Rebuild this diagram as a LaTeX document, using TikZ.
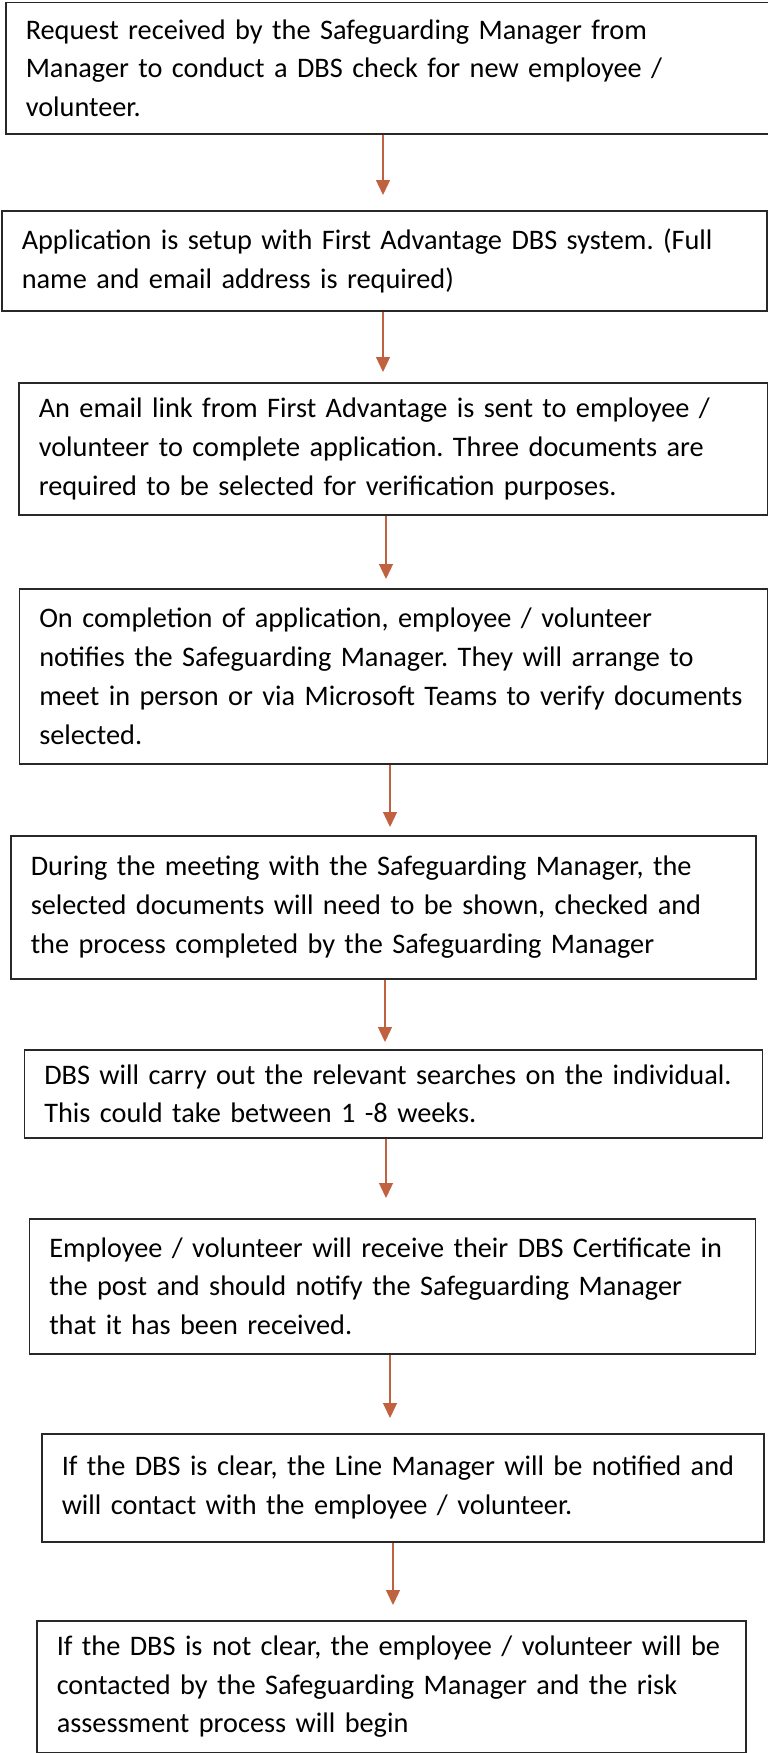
\documentclass[tikz,border=0pt]{standalone}
\usepackage{fontspec}
\setmainfont{Carlito}
\usepackage{tikz}
\usetikzlibrary{arrows.meta}
\definecolor{flowbrown}{RGB}{192,98,64}
\definecolor{boxline}{RGB}{40,40,40}
\tikzset{>={Triangle[length=15pt,width=14pt]}}
\frenchspacing

\begin{document}
\begin{tikzpicture}
    [x=1pt, y=-1pt,
     box/.style={draw=boxline, line width=1.5pt, anchor=north west, align=left,
       inner xsep=20pt, inner ysep=0pt, font=\fontsize{28.3}{38.8}\selectfont,
       execute at begin node={\rightskip=0pt plus 1fil minus 30pt\hyphenpenalty=10000}},
     flow/.style={->, draw=flowbrown, fill=flowbrown, line width=1.3pt}]

    \useasboundingbox (0,0) rectangle (768,1753);

    \node[box, text width=724pt, minimum height=131pt] (request) at (5,2)
      {Request received by the Safeguarding Manager from\\
       Manager to conduct a DBS check for new employee /\\
       volunteer.};

    \node[box, text width=725pt, minimum height=100pt] (setup) at (1,210)
      {Application is setup with First Advantage DBS system. (Full\\
       name and email address is required)};

    \node[box, text width=709pt, minimum height=132pt] (emaillink) at (18,382)
      {An email link from First Advantage is sent to employee /\\
       volunteer to complete application. Three documents are\\
       required to be selected for verification purposes.};

    \node[box, text width=708pt, minimum height=175pt] (complete) at (18.5,588)
      {On completion of application, employee / volunteer\\
       notifies the Safeguarding Manager. They will arrange to\\
       meet in person or via Microsoft Teams to verify documents\\
       selected.};

    \node[box, text width=705pt, minimum height=143pt] (meeting) at (10,835)
      {During the meeting with the Safeguarding Manager, the\\
       selected documents will need to be shown, checked and\\
       the process completed by the Safeguarding Manager};

    \node[box, text width=698pt, minimum height=88pt] (searches) at (23.5,1049)
      {DBS will carry out the relevant searches on the individual.\\
       This could take between 1 -8 weeks.};

    \node[box, text width=686pt, minimum height=135pt] (certificate) at (28.5,1218)
      {Employee / volunteer will receive their DBS Certificate in\\
       the post and should notify the Safeguarding Manager\\
       that it has been received.};

    \node[box, text width=682pt, minimum height=108pt] (clear) at (41,1433)
      {If the DBS is clear, the Line Manager will be notified and\\
       will contact with the employee / volunteer.};

    \node[box, text width=669pt, minimum height=132pt] (notclear) at (36,1620)
      {If the DBS is not clear, the employee / volunteer will be\\
       contacted by the Safeguarding Manager and the risk\\
       assessment process will begin};

    % arrow tips stop short of the next box
    \coordinate (tip1) at (383,195);
    \coordinate (tip2) at (383,372);
    \coordinate (tip3) at (386,579);
    \coordinate (tip4) at (390,827);
    \coordinate (tip5) at (385,1042);
    \coordinate (tip6) at (386,1198);
    \coordinate (tip7) at (390,1418);
    \coordinate (tip8) at (393,1605);

    \draw[flow] (request.south -| tip1) -- (tip1);
    \draw[flow] (setup.south -| tip2) -- (tip2);
    \draw[flow] (emaillink.south -| tip3) -- (tip3);
    \draw[flow] (complete.south -| tip4) -- (tip4);
    \draw[flow] (meeting.south -| tip5) -- (tip5);
    \draw[flow] (searches.south -| tip6) -- (tip6);
    \draw[flow] (certificate.south -| tip7) -- (tip7);
    \draw[flow] (clear.south -| tip8) -- (tip8);
\end{tikzpicture}
\end{document}
